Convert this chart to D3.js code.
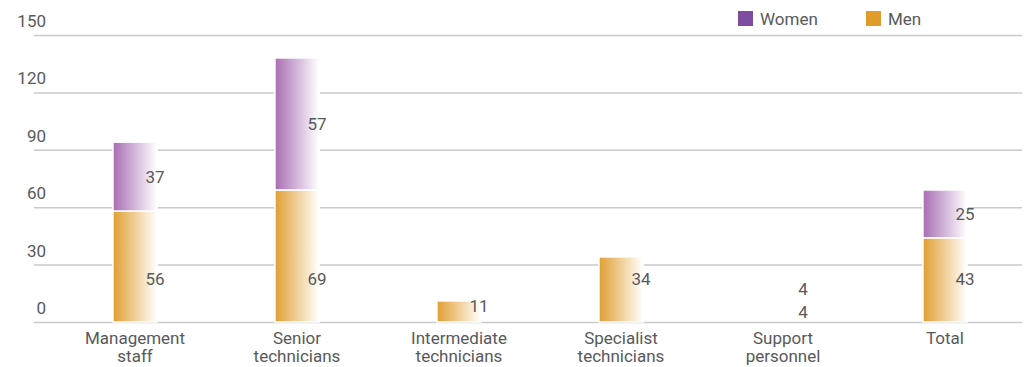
<!DOCTYPE html>
<html>
<head>
<meta charset="utf-8">
<script src="https://cdn.jsdelivr.net/npm/d3@7"></script>
<style>
    body { margin: 0; background: #fff; }
    text { font-family: Roboto, "DejaVu Sans", sans-serif; fill: #58595b; }
</style>
</head>
<body>
<script>
// chart data
var categories = ["Management staff", "Senior technicians", "Intermediate technicians",
                  "Specialist technicians", "Support personnel", "Total"],
    menBars = [58, 69, 11, 34, 0, 44],
    womenBars = [36, 69, 0, 0, 0, 25],
    menLabels = [56, 69, 11, 34, 4, 43],
    womenLabels = [37, 57, null, null, 4, 25],
    yTicks = [0, 30, 60, 90, 120, 150],
    seriesNames = ["Women", "Men"];

var width = 1029,
    height = 367,
    fontSize = "17px",
    colWomen = "#a86db3",
    colMen = "#e09f32",
    legWomen = "#7d4b9f",
    legMen = "#e19b2b";

var svg = d3.select("body").append("svg")
    .attr("width", width)
    .attr("height", height);

// gradients for the bars
var defs = svg.append("defs");
[["gradWomen", colWomen], ["gradMen", colMen]].forEach(function(g) {
    var grad = defs.append("linearGradient")
        .attr("id", g[0])
        .attr("x1", "0%").attr("x2", "100%")
        .attr("y1", "0%").attr("y2", "0%");
    grad.append("stop").attr("offset", "0%").attr("stop-color", g[1]);
    grad.append("stop").attr("offset", "100%").attr("stop-color", "#ffffff");
});

// scales
var x = d3.scaleBand()
    .domain(categories)
    .range([54, 1026])
    .paddingInner(0.728)
    .paddingOuter(0.364);

var y = d3.scaleLinear()
    .domain([0, 150])
    .range([322, 35]);

// gridlines and tick labels
var yAxis = d3.axisLeft(y)
    .tickValues(yTicks)
    .tickSize(-988)
    .tickFormat(d3.format("d"));

var gAxis = svg.append("g")
    .attr("transform", "translate(1022,0)")
    .call(yAxis);
gAxis.select(".domain").remove();
gAxis.attr("font-family", null).attr("font-size", null);
gAxis.selectAll(".tick line")
    .attr("x1", -988)
    .attr("x2", 0)
    .attr("stroke", "#c9c9c9")
    .attr("stroke-width", 1.5);
gAxis.selectAll(".tick text")
    .attr("x", -976)
    .attr("dy", "-0.5em")
    .attr("text-anchor", "end")
    .style("font-size", fontSize)
    .attr("fill", "#58595b");

// bars, men at the bottom, women on top
var bars = svg.append("g");
categories.forEach(function(c, i) {
    var bx = x(c), bw = x.bandwidth();
    if (menBars[i] > 0) {
        bars.append("rect")
            .attr("x", bx)
            .attr("y", y(menBars[i]))
            .attr("width", bw)
            .attr("height", y(0) - y(menBars[i]))
            .attr("fill", "url(#gradMen)")
            .attr("stroke", "#fff")
            .attr("stroke-width", 1.5);
    }
    if (womenBars[i] > 0) {
        bars.append("rect")
            .attr("x", bx)
            .attr("y", y(menBars[i] + womenBars[i]))
            .attr("width", bw)
            .attr("height", y(menBars[i]) - y(menBars[i] + womenBars[i]))
            .attr("fill", "url(#gradWomen)")
            .attr("stroke", "#fff")
            .attr("stroke-width", 1.5);
    }
});

// value labels
var labels = svg.append("g")
    .style("font-size", fontSize);
categories.forEach(function(c, i) {
    var lx = x(c) + x.bandwidth() - 2;
    var menY = Math.min(Math.max(y(22.5), y(menLabels[i]) + 5), y(0) - 10);
    labels.append("text")
        .attr("x", lx)
        .attr("y", menY)
        .attr("dy", "0.36em")
        .attr("text-anchor", "middle")
        .text(menLabels[i]);
    if (womenLabels[i] != null) {
        var mid = (y(menBars[i]) + y(menBars[i] + womenBars[i])) / 2;
        labels.append("text")
            .attr("x", lx)
            .attr("y", Math.min(mid, menY - 23))
            .attr("dy", "0.36em")
            .attr("text-anchor", "middle")
            .text(womenLabels[i]);
    }
});

// category labels on two lines
var catText = svg.append("g")
    .selectAll("text")
    .data(categories)
    .enter().append("text")
        .attr("x", function(d) { return x(d) + x.bandwidth() / 2; })
        .attr("y", 344)
        .attr("text-anchor", "middle")
        .style("font-size", fontSize);
catText.each(function(d) {
    var words = d.split(" ");
    var t = d3.select(this);
    words.forEach(function(w, j) {
        t.append("tspan")
            .attr("x", x(d) + x.bandwidth() / 2)
            .attr("dy", j == 0 ? 0 : 18)
            .text(w);
    });
});

// legend
var legend = svg.append("g")
    .selectAll("g")
    .data(seriesNames)
    .enter().append("g")
        .attr("transform", function(d, i) { return "translate(" + (738 + i * 128) + ",11)"; });

legend.append("rect")
    .attr("width", 15)
    .attr("height", 15)
    .attr("fill", function(d, i) { return i == 0 ? legWomen : legMen; });

legend.append("text")
    .attr("x", 22)
    .attr("y", 8)
    .attr("dy", "0.36em")
    .style("font-size", fontSize)
    .text(function(d) { return d; });
</script>
</body>
</html>
